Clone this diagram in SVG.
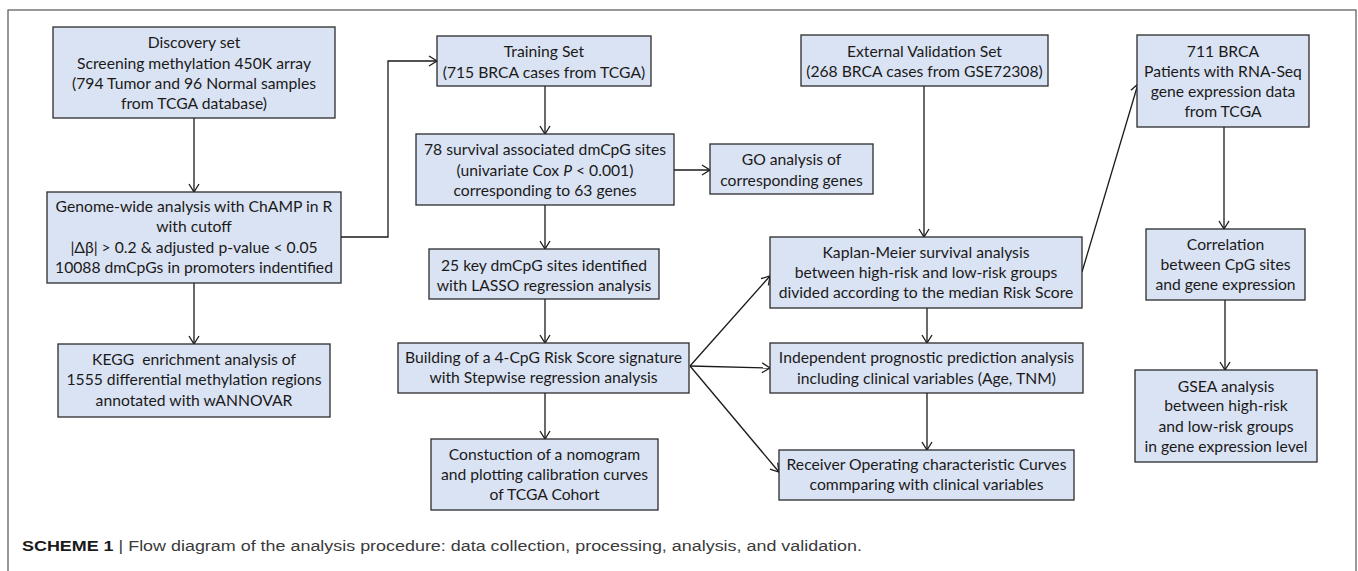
<svg xmlns="http://www.w3.org/2000/svg" width="1358" height="571" viewBox="0 0 1358 571">
<defs>
<style>
.box{fill:#dae3f3;stroke:#2b2b2b;stroke-width:1.3}
.t{font-family:Lato,"Open Sans","Liberation Sans",sans-serif;font-size:15.7px;fill:#1a1a1a;text-anchor:middle}
.c{fill:none;stroke:#1a1a1a;stroke-width:1.3}
.cap{font-family:"Liberation Sans",Arial,sans-serif;font-size:15.5px;fill:#3a3a3a}
</style>
<marker id="ah" markerUnits="userSpaceOnUse" markerWidth="14" markerHeight="14" refX="9" refY="6" orient="auto">
<path d="M1,1 L9,6 L1,11" fill="none" stroke="#1a1a1a" stroke-width="1.3"/>
</marker>
</defs>
<rect x="0" y="0" width="1358" height="571" fill="#fff"/>
<rect x="8" y="10" width="1348" height="580" fill="none" stroke="#555" stroke-width="1.2"/>

<g id="connectors">
<line class="c" x1="194" y1="118" x2="194" y2="192" marker-end="url(#ah)"/>
<line class="c" x1="194" y1="283" x2="194" y2="344" marker-end="url(#ah)"/>
<polyline class="c" points="341,237 388,237 388,61 437,61" marker-end="url(#ah)"/>
<line class="c" x1="545" y1="86" x2="545" y2="134" marker-end="url(#ah)"/>
<line class="c" x1="674" y1="170" x2="710" y2="170" marker-end="url(#ah)"/>
<line class="c" x1="545" y1="205" x2="545" y2="249" marker-end="url(#ah)"/>
<line class="c" x1="545" y1="299" x2="545" y2="343" marker-end="url(#ah)"/>
<line class="c" x1="545" y1="393" x2="545" y2="439" marker-end="url(#ah)"/>
<line class="c" x1="690" y1="366" x2="770" y2="276" marker-end="url(#ah)"/>
<line class="c" x1="690" y1="366" x2="770" y2="368" marker-end="url(#ah)"/>
<line class="c" x1="690" y1="366" x2="779" y2="472" marker-end="url(#ah)"/>
<line class="c" x1="924" y1="86" x2="924" y2="237" marker-end="url(#ah)"/>
<line class="c" x1="927" y1="308" x2="927" y2="343" marker-end="url(#ah)"/>
<line class="c" x1="927" y1="393" x2="927" y2="450" marker-end="url(#ah)"/>
<line class="c" x1="1082" y1="272" x2="1138" y2="84" marker-end="url(#ah)"/>
<line class="c" x1="1224" y1="127" x2="1224" y2="229" marker-end="url(#ah)"/>
<line class="c" x1="1225" y1="300" x2="1225" y2="370" marker-end="url(#ah)"/>
</g>

<g id="discovery">
<rect class="box" x="53" y="27" width="282" height="91"/>
<text class="t" x="194" y="43" dy="0.35em">Discovery set</text>
<text class="t" x="194" y="64" dy="0.35em">Screening methylation 450K array</text>
<text class="t" x="194" y="84" dy="0.35em">(794 Tumor and 96 Normal samples</text>
<text class="t" x="194" y="104" dy="0.35em">from TCGA database)</text>
</g>

<g id="genome">
<rect class="box" x="47" y="192" width="294" height="91"/>
<text class="t" x="194" y="207" dy="0.35em">Genome-wide analysis with ChAMP in R</text>
<text class="t" x="194" y="227" dy="0.35em">with cutoff</text>
<text class="t" x="194" y="248" dy="0.35em">|Δβ| &gt; 0.2 &amp; adjusted p-value &lt; 0.05</text>
<text class="t" x="194" y="268" dy="0.35em">10088 dmCpGs in promoters indentified</text>
</g>

<g id="kegg">
<rect class="box" x="58" y="344" width="272" height="73"/>
<text class="t" x="194" y="360" dy="0.35em" xml:space="preserve">KEGG  enrichment analysis of</text>
<text class="t" x="194" y="380" dy="0.35em">1555 differential methylation regions</text>
<text class="t" x="194" y="401" dy="0.35em">annotated with wANNOVAR</text>
</g>

<g id="training">
<rect class="box" x="437" y="36" width="214" height="50"/>
<text class="t" x="544" y="52" dy="0.35em">Training Set</text>
<text class="t" x="544" y="73" dy="0.35em">(715 BRCA cases from TCGA)</text>
</g>

<g id="survival78">
<rect class="box" x="416" y="134" width="258" height="71"/>
<text class="t" x="545" y="150" dy="0.35em">78 survival associated dmCpG sites</text>
<text class="t" x="545" y="171" dy="0.35em">(univariate Cox <tspan font-style="italic">P</tspan> &lt; 0.001)</text>
<text class="t" x="545" y="191" dy="0.35em">corresponding to 63 genes</text>
</g>

<g id="go">
<rect class="box" x="710" y="144" width="163" height="50"/>
<text class="t" x="791.5" y="160" dy="0.35em">GO analysis of</text>
<text class="t" x="791.5" y="181" dy="0.35em">corresponding genes</text>
</g>

<g id="lasso">
<rect class="box" x="429" y="249" width="230" height="50"/>
<text class="t" x="544" y="266" dy="0.35em">25 key dmCpG sites identified</text>
<text class="t" x="544" y="286" dy="0.35em">with LASSO regression analysis</text>
</g>

<g id="building">
<rect class="box" x="398" y="343" width="291" height="50"/>
<text class="t" x="543.5" y="358" dy="0.35em">Building of a 4-CpG Risk Score signature</text>
<text class="t" x="543.5" y="378" dy="0.35em">with Stepwise regression analysis</text>
</g>

<g id="nomogram">
<rect class="box" x="431" y="439" width="227" height="71"/>
<text class="t" x="544.5" y="455" dy="0.35em">Constuction of a nomogram</text>
<text class="t" x="544.5" y="475" dy="0.35em">and plotting calibration curves</text>
<text class="t" x="544.5" y="495" dy="0.35em">of TCGA Cohort</text>
</g>

<g id="external">
<rect class="box" x="801" y="35" width="247" height="51"/>
<text class="t" x="924.5" y="52" dy="0.35em">External Validation Set</text>
<text class="t" x="924.5" y="72" dy="0.35em">(268 BRCA cases from GSE72308)</text>
</g>

<g id="km">
<rect class="box" x="770" y="237" width="312" height="71"/>
<text class="t" x="926" y="253" dy="0.35em">Kaplan-Meier survival analysis</text>
<text class="t" x="926" y="273" dy="0.35em">between high-risk and low-risk groups</text>
<text class="t" x="926" y="293" dy="0.35em">divided according to the median Risk Score</text>
</g>

<g id="independent">
<rect class="box" x="770" y="343" width="313" height="50"/>
<text class="t" x="926.5" y="358" dy="0.35em">Independent prognostic prediction analysis</text>
<text class="t" x="926.5" y="379" dy="0.35em">including clinical variables (Age, TNM)</text>
</g>

<g id="roc">
<rect class="box" x="779" y="450" width="295" height="50"/>
<text class="t" x="926.5" y="465" dy="0.35em">Receiver Operating characteristic Curves</text>
<text class="t" x="926.5" y="485" dy="0.35em">commparing with clinical variables</text>
</g>

<g id="rnaseq">
<rect class="box" x="1137" y="35" width="172" height="92"/>
<text class="t" x="1223" y="52" dy="0.35em">711 BRCA</text>
<text class="t" x="1223" y="72" dy="0.35em">Patients with RNA-Seq</text>
<text class="t" x="1223" y="92" dy="0.35em">gene expression data</text>
<text class="t" x="1223" y="112" dy="0.35em">from TCGA</text>
</g>

<g id="correlation">
<rect class="box" x="1146" y="229" width="159" height="71"/>
<text class="t" x="1225.5" y="245" dy="0.35em">Correlation</text>
<text class="t" x="1225.5" y="265" dy="0.35em">between CpG sites</text>
<text class="t" x="1225.5" y="285" dy="0.35em">and gene expression</text>
</g>

<g id="gsea">
<rect class="box" x="1135" y="370" width="182" height="92"/>
<text class="t" x="1226" y="387" dy="0.35em">GSEA analysis</text>
<text class="t" x="1226" y="406" dy="0.35em">between high-risk</text>
<text class="t" x="1226" y="427" dy="0.35em">and low-risk groups</text>
<text class="t" x="1226" y="447" dy="0.35em">in gene expression level</text>
</g>

<g id="caption">
<text class="cap" x="22" y="551" textLength="840" lengthAdjust="spacingAndGlyphs"><tspan font-weight="bold" fill="#1a1a1a">SCHEME 1</tspan> | Flow diagram of the analysis procedure: data collection, processing, analysis, and validation.</text>
</g>
</svg>
